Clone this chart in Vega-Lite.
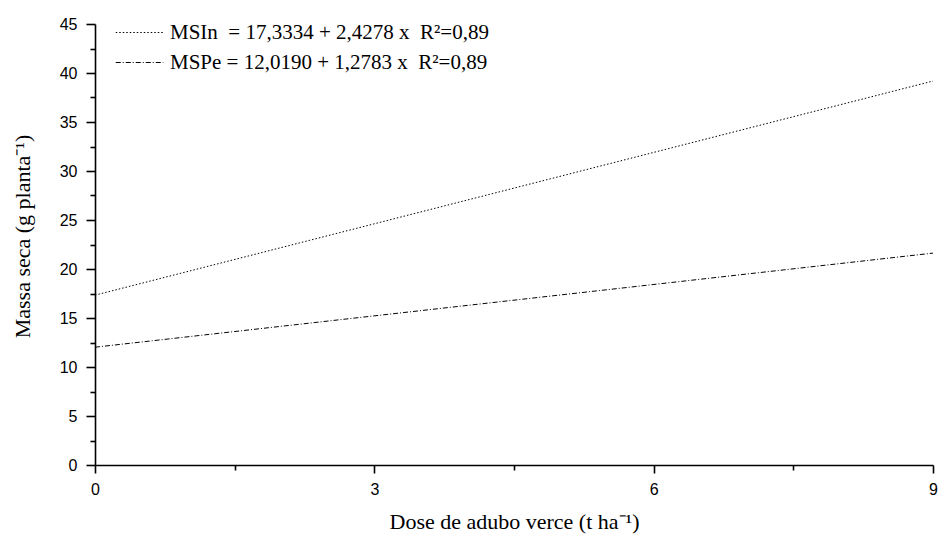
{
  "$schema": "https://vega.github.io/schema/vega-lite/v6.json",
  "width": 838,
  "height": 441,
  "autosize": {"type": "none"},
  "padding": {"left": 95, "top": 24, "right": 6, "bottom": 73},
  "background": "white",
  "config": {
    "view": {"stroke": null},
    "axis": {
      "grid": false,
      "domainColor": "black",
      "domainWidth": 1.6,
      "tickColor": "black",
      "tickWidth": 1.6,
      "labelColor": "black",
      "labelFont": "Liberation Sans",
      "labelFontSize": 16,
      "titleColor": "black",
      "titleFont": "Liberation Serif",
      "titleFontSize": 22,
      "titleFontWeight": "normal"
    }
  },
  "data": {
    "values": [
      {"serie": "MSIn", "dose": 0, "massa": 17.33},
      {"serie": "MSIn", "dose": 9, "massa": 39.18},
      {"serie": "MSPe", "dose": 0, "massa": 12.02},
      {"serie": "MSPe", "dose": 9, "massa": 21.62}
    ]
  },
  "mark": {"type": "line", "color": "black", "strokeWidth": 1},
  "encoding": {
    "x": {
      "field": "dose",
      "type": "quantitative",
      "scale": {"domain": [0, 9], "nice": false, "zero": false},
      "axis": {
        "title": "Dose de adubo verce (t ha⁻¹)",
        "values": [0, 1.5, 3, 4.5, 6, 7.5, 9],
        "labelExpr": "datum.value % 3 === 0 ? format(datum.value, 'd') : ''",
        "tickSize": {"condition": {"test": "datum.value % 3 === 0", "value": 8}, "value": 5},
        "labelPadding": 8,
        "labelFlush": false,
        "titlePadding": 14
      }
    },
    "y": {
      "field": "massa",
      "type": "quantitative",
      "scale": {"domain": [0, 45], "nice": false},
      "axis": {
        "title": "Massa seca (g planta⁻¹)",
        "values": [0, 2.5, 5, 7.5, 10, 12.5, 15, 17.5, 20, 22.5, 25, 27.5, 30, 32.5, 35, 37.5, 40, 42.5, 45],
        "labelExpr": "datum.value % 5 === 0 ? format(datum.value, 'd') : ''",
        "tickSize": {"condition": {"test": "datum.value % 5 === 0", "value": 9}, "value": 5},
        "labelPadding": 9,
        "labelFlush": false,
        "titlePadding": 25,
        "titleY": 212
      }
    },
    "strokeDash": {
      "field": "serie",
      "type": "nominal",
      "scale": {"domain": ["MSIn", "MSPe"], "range": [[1.5, 2], [5, 2, 1, 2]]},
      "legend": {
        "title": null,
        "orient": "none",
        "legendX": 34,
        "legendY": -2,
        "padding": 0,
        "symbolType": "M-2.5,0H2.5",
        "symbolSize": 361,
        "symbolStrokeWidth": 1,
        "symbolStrokeColor": "black",
        "rowPadding": 8,
        "labelOffset": 20,
        "labelFont": "Liberation Serif",
        "labelFontSize": 21,
        "labelColor": "black",
        "labelLimit": 0,
        "labelExpr": "datum.value === 'MSIn' ? 'MSIn\u00a0 = 17,3334 + 2,4278 x\u00a0 R²=0,89' : 'MSPe = 12,0190 + 1,2783 x\u00a0 R²=0,89'"
      }
    }
  }
}
